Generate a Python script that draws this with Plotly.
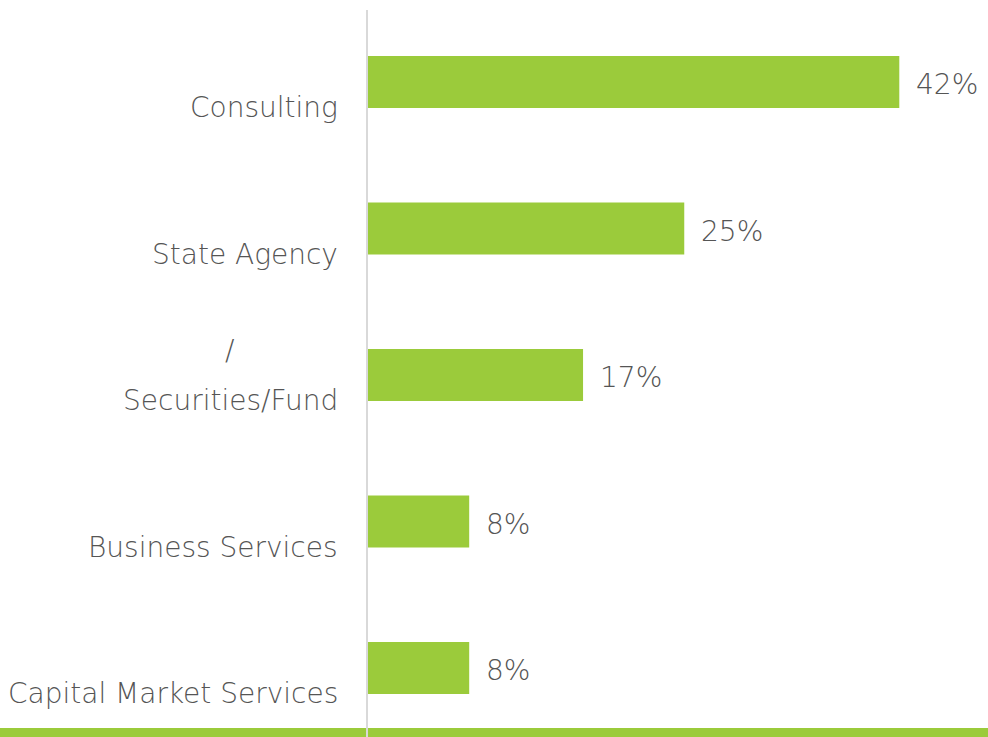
import plotly.graph_objects as go

categories = ["Capital Market Services", "Business Services", "Securities/Fund", "State Agency", "Consulting"]
upper_lines = ["", "", "/", "", ""]
values = [8, 8, 17, 25, 42]
value_labels = ["8%", "8%", "17%", "25%", "42%"]

GREEN = "#9BCB3B"
TEXT = "#555555"
FONT = "DejaVu Sans"
FS = 28
W = 200

fig = go.Figure()
fig.add_trace(go.Bar(
    x=values, y=categories, orientation="h",
    marker=dict(color=GREEN, line=dict(width=0)),
    width=0.355, hoverinfo="skip", showlegend=False,
))

annotations = []
for cat, up, v, lab in zip(categories, upper_lines, values, value_labels):
    annotations.append(dict(x=v, y=cat, xref="x", yref="y", text=lab, showarrow=False,
                            xanchor="left", yanchor="middle", xshift=15, yshift=-3,
                            font=dict(family=FONT, size=FS, color=TEXT, weight=W)))
    annotations.append(dict(x=0, y=cat, xref="paper", yref="y", text=cat, showarrow=False,
                            xanchor="right", yanchor="middle", xshift=-28, yshift=-26,
                            font=dict(family=FONT, size=FS, color=TEXT, weight=W)))
    if up:
        annotations.append(dict(x=0, y=cat, xref="paper", yref="y", text=up, showarrow=False,
                                xanchor="right", yanchor="middle", xshift=-132, yshift=24,
                                font=dict(family=FONT, size=FS, color=TEXT, weight=W)))

fig.update_layout(
    width=988, height=737,
    margin=dict(l=368, r=0, t=10, b=0),
    paper_bgcolor="white", plot_bgcolor="white",
    xaxis=dict(range=[0, 620 / 12.65], visible=False, fixedrange=True),
    yaxis=dict(type="category", categoryorder="array", categoryarray=categories,
               range=[-0.471, 4.491], showticklabels=False, ticks="", fixedrange=True,
               showline=True, linecolor="#d9d9d9", linewidth=2, showgrid=False, zeroline=False),
    annotations=annotations,
    shapes=[dict(type="rect", xref="paper", yref="paper", x0=-1, x1=1.1, y0=-0.02, y1=9 / 727,
                 fillcolor=GREEN, line=dict(width=0), layer="below")],
)

fig.write_html("out.html", config=dict(displayModeBar=False),
               post_script="document.body.style.margin='0';document.body.style.overflow='hidden';")
